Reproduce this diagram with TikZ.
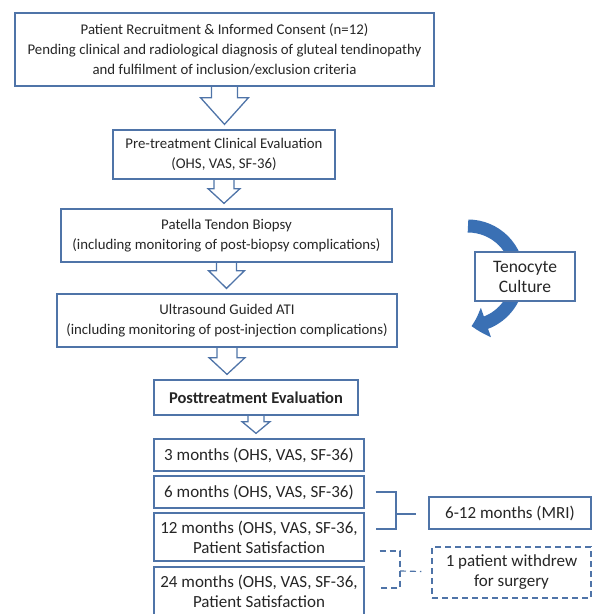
\documentclass[tikz,border=0pt]{standalone}
\usepackage{fontspec}
\setmainfont{Carlito}
\usetikzlibrary{calc,arrows.meta,bending}
\definecolor{boxblue}{HTML}{4F74A8}
\definecolor{curveblue}{HTML}{3A70B4}
\definecolor{txtgray}{HTML}{262626}
\tikzset{
  stage/.style={draw=boxblue, line width=1.3pt, fill=white, text=txtgray, align=center, inner sep=0pt,
    font=\fontsize{14.8}{20}\selectfont},
  visit/.style={stage, minimum width=210pt, font=\fontsize{17}{20}\selectfont},
  hollowarrow/.style={draw=boxblue, line width=1.3pt, line join=miter},
  bracket/.style={draw=boxblue, line width=1.2pt},
}
% hollow block arrow: from, to, shaft half width, head half width, shaft length
\newcommand{\flowarrow}[5]{%
  \draw[hollowarrow] ($(#1.south)+(-#3,0)$) -- ($(#1.south)+(-#3,#5)$) -- ($(#1.south)+(-#4,#5)$)
    -- ($(#1.south |- #2.north)+(0,-5)$) -- ($(#1.south)+(#4,#5)$) -- ($(#1.south)+(#3,#5)$)
    -- ($(#1.south)+(#3,0)$);}
\begin{document}
\begin{tikzpicture}[x=1pt,y=-1pt]
    \useasboundingbox (0,0) rectangle (592,614);
    % main stages
    \node[stage, minimum width=419pt, minimum height=73pt] (recruit) at (224.5,49.5)
      {Patient Recruitment \& Informed Consent (n=12)\\Pending clinical and radiological diagnosis of gluteal tendinopathy\\and fulfilment of inclusion/exclusion criteria};
    \node[stage, minimum width=222pt, minimum height=49pt] (pretreat) at (224,154.5)
      {Pre-treatment Clinical Evaluation\\(OHS, VAS, SF-36)};
    \node[stage, minimum width=331pt, minimum height=53pt] (biopsy) at (226.5,235.5)
      {Patella Tendon Biopsy\\(including monitoring of post-biopsy complications)};
    \node[stage, minimum width=340pt, minimum height=53pt] (ati) at (227,320.5)
      {Ultrasound Guided ATI\\(including monitoring of post-injection complications)};
    \node[stage, minimum width=204pt, minimum height=35pt, font=\fontsize{16.5}{20}\selectfont\bfseries] (posteval) at (256,397.5)
      {Posttreatment Evaluation};
    % follow-up visits
    \node[visit, minimum height=32pt] (m3) at (259,455) {3 months (OHS, VAS, SF-36)};
    \node[visit, minimum height=32pt] (m6) at (259,492) {6 months (OHS, VAS, SF-36)};
    \node[visit, minimum height=48pt] (m12) at (259,537) {12 months (OHS, VAS, SF-36,\\Patient Satisfaction};
    \node[visit, minimum height=48pt] (m24) at (259,591) {24 months (OHS, VAS, SF-36,\\Patient Satisfaction};
    % side boxes
    \node[stage, minimum width=162pt, minimum height=32pt, font=\fontsize{17}{20}\selectfont] (mri) at (510,513) {6-12 months (MRI)};
    \node[stage, dashed, dash pattern=on 6pt off 4pt, minimum width=159pt, minimum height=51pt,
      font=\fontsize{17}{20}\selectfont] (withdrew) at (511.5,572.5) {1 patient withdrew\\for surgery};
    % curved arrow behind the culture box
    \draw[curveblue, line width=13pt, -{Triangle[width=30pt,length=15pt,bend]}] (468,226) arc[start angle=-90, end angle=86, radius=50];
    \node[stage, minimum width=100pt, minimum height=49pt, font=\fontsize{17.5}{20}\selectfont] (culture) at (525,276.5) {Tenocyte\\Culture};
    % block arrows
    \flowarrow{recruit}{pretreat}{13}{24}{11}
    \flowarrow{pretreat}{biopsy}{10}{16}{9}
    \flowarrow{biopsy}{ati}{10}{18}{8}
    \flowarrow{ati}{posteval}{10}{18}{10}
    \flowarrow{posteval}{m3}{8}{14}{6}
    % brackets
    \coordinate (mrijoin) at (396,514);
    \draw[bracket] ($(m6.east)+(11,0)$) -| (mrijoin) |- ($(m12.east)+(11,-8)$);
    \draw[bracket] (mrijoin) -- ($(mri.west)+(-12,1)$);
    \coordinate (outjoin) at (400,571);
    \draw[bracket, dashed, dash pattern=on 6pt off 4pt] ($(m12.east)+(15,14)$) -| (outjoin) |- ($(m24.east)+(15,-3)$);
    \draw[bracket, dashed, dash pattern=on 6pt off 4pt] (outjoin) -- ($(withdrew.west)+(-10,-1)$);
\end{tikzpicture}
\end{document}
